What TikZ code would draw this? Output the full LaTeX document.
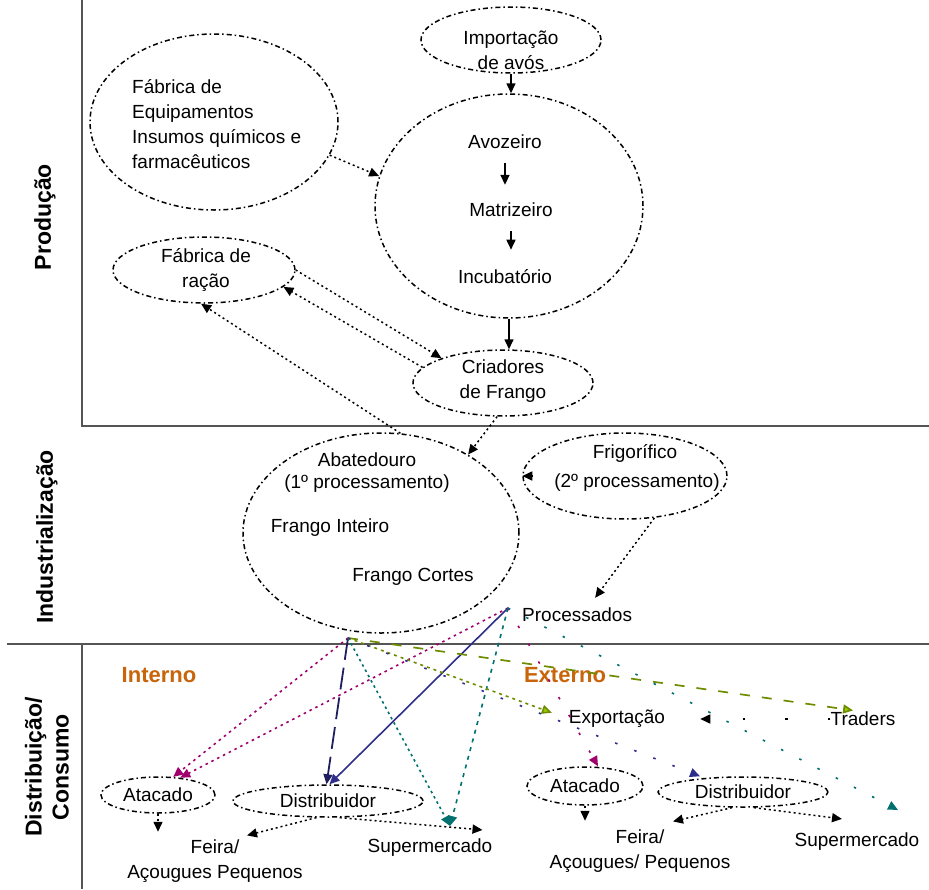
\documentclass[tikz,border=0pt]{standalone}
\usepackage{fontspec}
\setmainfont{Liberation Sans}
\usetikzlibrary{arrows.meta,shapes.geometric}
\definecolor{sepgray}{HTML}{555555}
\definecolor{magl}{HTML}{A0006E}
\definecolor{navyl}{HTML}{2E2E8A}
\definecolor{navyd}{HTML}{1E1E60}
\definecolor{teall}{HTML}{007070}
\definecolor{olivel}{HTML}{6E8C00}
\definecolor{greentip}{HTML}{99CC00}
\definecolor{orangel}{HTML}{C8640A}
\begin{document}
\begin{tikzpicture}[x=1pt,y=-1pt,
  ell/.style={draw, ellipse, line width=1.5pt, dash pattern=on 5pt off 3pt on 1.5pt off 3pt, inner sep=0pt},
  txt/.style={font=\fontsize{19}{25}\selectfont, align=center, inner sep=0pt},
  lbl/.style={font=\fontsize{23}{27}\selectfont\bfseries, rotate=90, align=center, inner sep=0pt},
  ttl/.style={font=\fontsize{22}{26}\selectfont\bfseries, text=orangel, inner sep=0pt},
  sec/.style={line width=2.8pt, draw=sepgray},
  tip/.style={-{Triangle[length=10pt,width=9pt]}},
  gtip/.style={-{Triangle[length=10pt,width=9pt,fill=greentip]}},
  dl/.style={line width=1.5pt, dash pattern=on 2pt off 3pt},
  sparse/.style={line width=1.6pt, dash pattern=on 2.5pt off 18pt},
  solidl/.style={line width=1.6pt},
]
\useasboundingbox (0,0) rectangle (929,889);

% section lines
\draw[sec] (82,0) -- (82,426) -- (929,426);
\draw[sec] (7,644) -- (929,644);
\draw[sec] (82,644) -- (82,889);

% section labels
\node[lbl] (lprod) at (45,217) {Produção};
\node[lbl] (lind) at (47,537) {Industrialização};
\node[lbl] (ldist) at (47,767) {Distribuição/\\Consumo};

% Produção
\node[ell, minimum width=248pt, minimum height=176pt] (fab) at (214,122) {};
\node[txt, align=left, anchor=west] (fabt) at (132,124) {Fábrica de\\Equipamentos\\Insumos químicos e\\farmacêuticos};
\node[ell, minimum width=180pt, minimum height=66pt] (imp) at (511,40) {};
\node[txt] (impt) at (511,50) {Importação\\de avós};
\node[ell, minimum width=268pt, minimum height=224pt] (big) at (509,206) {};
\node[txt] (avo) at (505,142) {Avozeiro};
\node[txt] (mat) at (511,210) {Matrizeiro};
\node[txt] (inc) at (505,277) {Incubatório};
\node[ell, minimum width=182pt, minimum height=66pt] (rac) at (204,270) {};
\node[txt] (ract) at (206,270) {Fábrica de\\ração};
\node[ell, minimum width=180pt, minimum height=66pt] (cri) at (503,383) {};
\node[txt] (crit) at (503,381) {Criadores\\de Frango};

\draw[tip, solidl] (imp.south) -- (imp.south |- big.north);
\draw[tip, solidl, shorten <=14pt, shorten >=18pt] (avo.south) -- (avo.south |- mat.north);
\draw[tip, solidl, shorten <=14pt, shorten >=20pt] (mat.south) -- (mat.south |- inc.north);
\draw[tip, dl] (fab.-16) -- (big.167);
\draw[tip, solidl] (big.south) -- (big.south |- cri.north);
\draw[tip, dl] (rac.east) -- (cri.158);
\draw[tip, dl] (cri.169) -- (rac.-12);

% Industrialização
\node[ell, minimum width=276pt, minimum height=200pt] (abat) at (381,533) {};
\node[txt] (abt1) at (367,460) {Abatedouro};
\node[txt] (abt2) at (367,484) {(1º processamento)};
\node[txt] (abt3) at (330,528) {Frango Inteiro};
\node[txt] (abt4) at (413,577) {Frango Cortes};
\node[ell, minimum width=204pt, minimum height=86pt] (frig) at (625,476) {};
\node[txt] (frt1) at (635,453) {Frigorífico};
\node[txt] (frt2) at (637,483) {(2º processamento)};
\node[txt, anchor=west] (proc) at (522,615) {Processados};

\draw[tip, dl] (abat.79) -- (rac.-95);
\draw[tip, dl] (cri.-100) -- (abat.42);
\draw[tip, solidl] ([xshift=11pt]frig.west) -- (frig.west);
\draw[tip, dl] (frig.-55) -- ([xshift=18pt,yshift=10pt]proc.north);

% Distribuição / Consumo
\coordinate (hub) at (348,638);
\coordinate (pr) at ([xshift=-14pt,yshift=7pt]proc.west);
\node[ttl] (int) at (159,675) {Interno};
\node[ttl] (ext) at (565,675) {Externo};
\node[txt] (expo) at (617,719) {Exportação};
\node[txt] (trad) at (863,719) {Traders};

\node[ell, minimum width=114pt, minimum height=36pt, txt] (atL) at (158,795) {Atacado};
\node[ell, minimum width=190pt, minimum height=32pt, txt] (diL) at (328,801) {Distribuidor};
\node[txt] (feiL) at (215,861) {Feira/\\Açougues Pequenos};
\node[txt] (supL) at (430,848) {Supermercado};

\node[ell, minimum width=116pt, minimum height=38pt, txt] (atR) at (585,786) {Atacado};
\node[ell, minimum width=170pt, minimum height=30pt, txt] (diR) at (743,792) {Distribuidor};
\node[txt] (feiR) at (640,851) {Feira/\\Açougues/ Pequenos};
\node[txt] (supR) at (857,842) {Supermercado};

\coordinate (st) at ([xshift=20pt,yshift=13pt]supL.north);

% coloured flows
\draw[tip, magl, line width=1.6pt, dash pattern=on 2.5pt off 4pt] (hub) -- (atL.50);
\draw[tip, magl, line width=1.6pt, dash pattern=on 2.5pt off 4pt] (pr) -- (atL.38);
\draw[tip, navyd, line width=1.8pt, dash pattern=on 22pt off 8pt] (hub) -- (diL.95);
\draw[tip, navyl, solidl] (pr) -- (diL.85);
\draw[tip, teall, line width=1.6pt, dash pattern=on 2.5pt off 3.5pt] (hub) -- (st);
\draw[tip, teall, line width=1.6pt, dash pattern=on 4pt off 5pt] (pr) -- (st);
\draw[gtip, olivel, line width=1.6pt, dash pattern=on 3pt off 4pt, shorten >=18pt] (hub) -- (expo.west);
\draw[gtip, olivel, line width=1.7pt, dash pattern=on 10pt off 12pt, shorten >=10pt] (hub) -- (trad.north);

\draw[tip, magl, sparse] (pr) -- ([xshift=13pt]atR.north);
\draw[tip, navyl, sparse] (hub) -- ([xshift=-43pt]diR.north);
\draw[tip, teall, sparse] (pr) -- ([xshift=41pt,yshift=23pt]supR.north);
\draw[tip, black, line width=1.6pt, dash pattern=on 2.5pt off 40pt, shorten >=35pt] (trad.west) -- (expo.east);

% local arrows
\draw[tip, dl] (atL.south) -- ++(0,18);
\draw[tip, dl] (diL.235) -- ([xshift=32pt,yshift=4pt]feiL.north);
\draw[tip, dl] (diL.-55) -- ([xshift=-10pt,yshift=9pt]supL.north east);
\draw[tip, dl] (atR.south) -- ++(0,15);
\draw[tip, dl] (diR.235) -- ([xshift=33pt,yshift=8pt]feiR.north);
\draw[tip, dl] (diR.-55) -- ([xshift=-15pt,yshift=14pt]supR.north);
\end{tikzpicture}
\end{document}
